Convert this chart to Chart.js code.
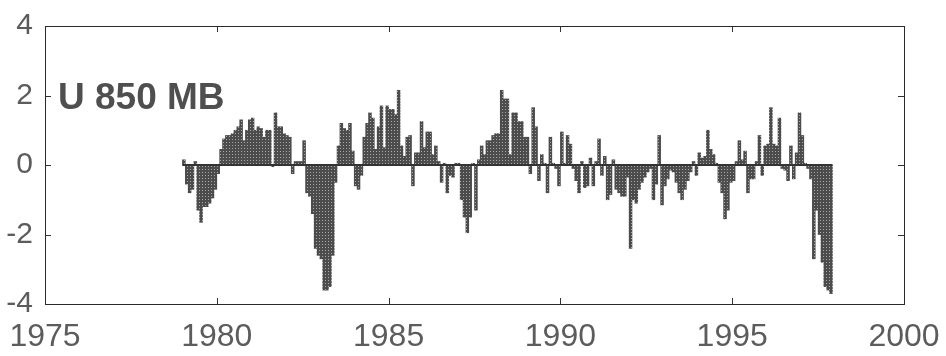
<!DOCTYPE html>
<html>
<head>
<meta charset="utf-8">
<script src="https://cdn.jsdelivr.net/npm/chart.js@4"></script>
<style>
  html, body { margin: 0; padding: 0; background: #fff; }
  #wrap { width: 946px; height: 356px; }
</style>
</head>
<body>
<div id="wrap"><canvas id="chart"></canvas></div>
<script>
// monthly U 850 mb anomalies, Jan..Dec of each year
const years = [1979, 1980, 1981, 1982, 1983, 1984, 1985, 1986, 1987, 1988,
               1989, 1990, 1991, 1992, 1993, 1994, 1995, 1996, 1997];
const u1979 = [0.15, -0.55, -0.8, -0.7, 0.1, -1.3, -1.65, -1.2, -1.2, -1.1, -0.95, -0.7];
const u1980 = [-0.25, 0.45, 0.75, 0.85, 0.85, 0.9, 1.0, 1.1, 1.3, 0.7, 1.0, 1.3];
const u1981 = [1.35, 1.0, 1.1, 1.05, 0.8, 1.0, 1.0, -0.05, 1.5, 1.1, 1.1, 0.9];
const u1982 = [0.85, 0.8, -0.25, 0.1, 0.1, 0.1, 0.7, -0.8, -0.9, -1.4, -2.4, -2.6];
const u1983 = [-2.7, -3.6, -3.6, -3.5, -2.6, -0.5, 0.55, 1.2, 1.05, 1.0, 1.2, 0.4];
const u1984 = [-0.6, -0.7, -0.3, 0.8, 1.2, 1.5, 1.35, 0.45, 1.1, 1.7, 0.5, 1.7];
const u1985 = [1.6, 1.6, 1.45, 2.15, 0.55, 0.25, 0.8, 0.85, -0.6, 0.35, 0.35, 1.25];
const u1986 = [0.5, 0.95, 0.95, 0.3, 0.55, 0.1, -0.5, 0.05, -0.8, -0.3, -0.35, 0.05];
const u1987 = [0.05, -1.0, -1.5, -1.95, -1.5, 0.05, -1.3, 0.15, 0.55, 0.3, 0.7, 0.7];
const u1988 = [0.85, 0.9, 0.9, 2.15, 1.9, 1.9, 0.3, 1.5, 1.5, 1.25, 1.25, 0.8];
const u1989 = [0.8, -0.25, 1.65, 1.1, -0.45, 0.3, 0.05, -0.8, 0.8, 0.05, -0.1, -0.6];
const u1990 = [0.95, 0.05, 0.85, 0.6, -0.1, -0.45, -0.8, 0.1, -0.65, -0.6, 0.2, -0.6];
const u1991 = [0.1, 0.75, -0.3, 0.25, -1.0, -0.85, 0.15, -0.7, -0.8, -0.9, -0.9, -0.35];
const u1992 = [-2.4, -1.0, -1.1, -0.7, -0.5, -0.35, -0.2, -0.1, -1.0, -0.55, 0.85, -1.15];
const u1993 = [-0.6, -0.4, -0.15, -0.2, -0.5, -0.8, -1.0, -0.7, -0.45, -0.2, 0.1, -0.3];
const u1994 = [0.35, 0.2, 0.25, 1.0, 0.45, 0.3, 0.05, -0.5, -0.8, -1.55, -1.3, -0.5];
const u1995 = [-0.45, 0.1, 0.7, 0.15, 0.4, -0.8, -0.4, -0.4, 0.1, 0.85, -0.3, 0.55];
const u1996 = [0.6, 1.65, 0.6, 0.55, 1.35, -0.1, -0.15, -0.45, 0.55, -0.4, 0.35, 1.5];
const u1997 = [0.85, 0.05, -0.1, -0.4, -2.7, -1.3, -2.0, -2.8, -3.5, -3.6, -3.7];

const xTicks = [1975, 1980, 1985, 1990, 1995, 2000];
const yTicks = [-4, -2, 0, 2, 4];
const title = 'U 850 MB';

const series = [u1979, u1980, u1981, u1982, u1983, u1984, u1985, u1986, u1987, u1988,
                u1989, u1990, u1991, u1992, u1993, u1994, u1995, u1996, u1997];

let points = [];
series.forEach((vals, i) => {
    vals.forEach((v, m) => {
        points.push({ x: years[i] + (m + 0.5) / 12, y: v });
    });
});
let zeroLine = [
    { x: points[0].x - 0.5 / 12, y: 0 },
    { x: points[points.length - 1].x + 0.5 / 12, y: 0 }
];

// stippled grey like the scanned plot
function stipple() {
    let c = document.createElement('canvas');
    c.width = 3; c.height = 3;
    let g = c.getContext('2d');
    g.fillStyle = '#4c4c4c';
    g.fillRect(0, 0, 3, 3);
    g.fillStyle = '#a8a8a8';
    g.fillRect(1, 1, 1, 1);
    return g.createPattern(c, 'repeat');
}

// inward tick marks on all four sides + the panel label
const frame = {
    id: 'frame',
    afterDraw(chart) {
        const { ctx, chartArea: a, scales } = chart;
        ctx.save();
        ctx.strokeStyle = '#333';
        ctx.lineWidth = 1;
        ctx.beginPath();
        xTicks.slice(1, -1).forEach(t => {
            let px = Math.round(scales.x.getPixelForValue(t)) + 0.5;
            ctx.moveTo(px, a.bottom); ctx.lineTo(px, a.bottom - 6);
            ctx.moveTo(px, a.top); ctx.lineTo(px, a.top + 6);
        });
        yTicks.slice(1, -1).forEach(t => {
            let py = Math.round(scales.y.getPixelForValue(t)) + 0.5;
            ctx.moveTo(a.left, py); ctx.lineTo(a.left + 6, py);
            ctx.moveTo(a.right, py); ctx.lineTo(a.right - 6, py);
        });
        ctx.stroke();
        ctx.strokeStyle = '#2a2a2a';
        ctx.strokeRect(a.left + 0.5, a.top + 0.5, a.right - a.left, a.bottom - a.top);

        ctx.fillStyle = '#4f4f4f';
        ctx.font = 'bold 37px "Liberation Sans", Arial, sans-serif';
        ctx.textBaseline = 'alphabetic';
        ctx.fillText(title, a.left + 13, scales.y.getPixelForValue(1.6));
        ctx.restore();
    }
};

var ctx = document.getElementById('chart').getContext('2d');
var myChart = new Chart(ctx, {
    type: 'bar',
    data: {
        datasets: [{
            type: 'line',
            data: zeroLine,
            borderColor: '#333',
            borderWidth: 2,
            pointRadius: 0,
            order: 0
        }, {
            data: points,
            backgroundColor: stipple(),
            borderWidth: 0,
            barPercentage: 1.0,
            categoryPercentage: 1.0,
            order: 1
        }]
    },
    options: {
        responsive: true,
        maintainAspectRatio: false,
        animation: false,
        layout: { padding: { top: 26, right: 42, left: 0, bottom: 0 } },
        plugins: { legend: { display: false }, tooltip: { enabled: false } },
        scales: {
            x: {
                type: 'linear',
                min: 1975,
                max: 2000,
                offset: false,
                grid: { display: false },
                border: { display: false },
                afterBuildTicks: s => { s.ticks = xTicks.map(v => ({ value: v })); },
                afterFit: s => { s.height = 52; },
                ticks: {
                    color: '#5c5c5c',
                    padding: 6,
                    maxRotation: 0,
                    autoSkip: false,
                    font: { family: '"Liberation Sans", Arial, sans-serif', size: 32 },
                    callback: v => String(v)
                }
            },
            y: {
                min: -4,
                max: 4,
                grid: { display: false },
                border: { display: false },
                afterBuildTicks: s => { s.ticks = yTicks.map(v => ({ value: v })); },
                afterFit: s => { s.width = 45; },
                ticks: {
                    color: '#5c5c5c',
                    padding: 4,
                    font: { family: '"Liberation Sans", Arial, sans-serif', size: 30 },
                    callback: v => String(v)
                }
            }
        }
    },
    plugins: [frame]
});
</script>
</body>
</html>
